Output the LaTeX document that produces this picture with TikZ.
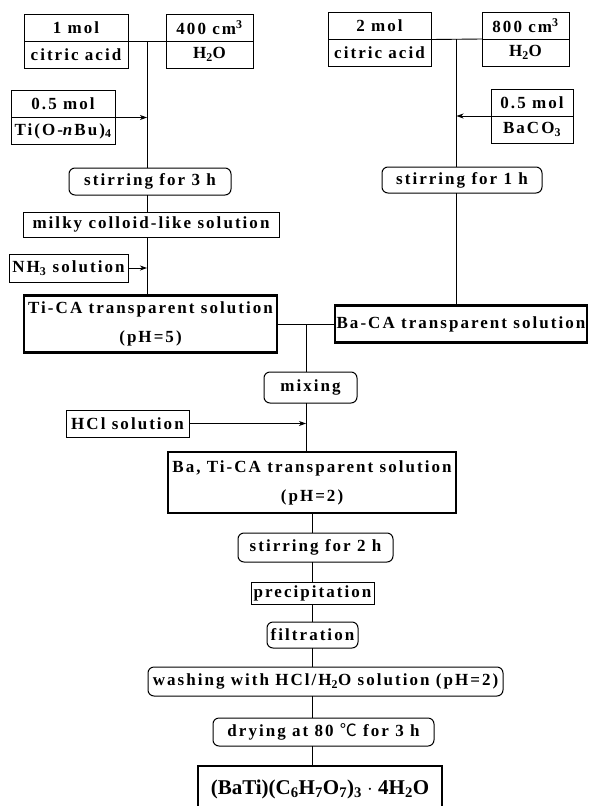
\documentclass[tikz,border=0pt]{standalone}
\usepackage{fontspec}
\setmainfont{Liberation Serif}[LetterSpace=12]
\newfontfamily\prodfont{Liberation Serif}
\newfontfamily\cjk{Noto Sans CJK SC}
\usetikzlibrary{positioning, arrows.meta}

\begin{document}
\begin{tikzpicture}[x=1pt,y=-1pt,
    every node/.style={font=\fontsize{17}{29}\selectfont\bfseries,inner sep=0pt,outer sep=0pt,align=center},
    cell/.style={draw,line width=1pt,minimum height=27pt},
    box/.style={draw,line width=1pt},
    proc/.style={draw,line width=1pt,rounded corners=6pt},
    sol/.style={draw,line width=2.2pt},
    link/.style={line width=0.9pt},
    feed/.style={line width=0.9pt,-{Stealth[length=7pt,width=5pt,inset=2pt]}}]
    \useasboundingbox (0,0) rectangle (590,806);

    \node[cell,minimum width=104pt] (ca1) at (76,27.5) {1 mol};
    \node[cell,minimum width=104pt,below=0pt of ca1] (ca1b) {citric acid};
    \node[cell,minimum width=87pt] (w1) at (209.5,27.5) {400 cm\textsuperscript{3}};
    \node[cell,minimum width=87pt,below=0pt of w1] (w1b) {H\textsubscript{2}O};
    \node[cell,minimum width=104pt] (ti) at (63,104) {0.5 mol};
    \node[cell,minimum width=104pt,below=0pt of ti] (tib) {Ti(O-\textit{n}Bu)\textsubscript{4}};

    \node[cell,minimum width=103pt] (ca2) at (379.5,26) {2 mol};
    \node[cell,minimum width=103pt,below=0pt of ca2] (ca2b) {citric acid};
    \node[cell,minimum width=87pt] (w2) at (525.5,25.5) {800 cm\textsuperscript{3}};
    \node[cell,minimum width=87pt,below=0pt of w2] (w2b) {H\textsubscript{2}O};
    \node[cell,minimum width=82pt] (ba) at (532,102.5) {0.5 mol};
    \node[cell,minimum width=82pt,below=0pt of ba] (bab) {BaCO\textsubscript{3}};

    \node[proc,minimum width=162pt,minimum height=27pt] (stir3) at (150,181.5) {stirring for 3 h};
    \node[box,minimum width=256pt,minimum height=25pt] (milky) at (151,224.5) {milky colloid-like solution};
    \node[box,minimum width=119pt,minimum height=28pt] (nh3) at (68.5,268) {NH\textsubscript{3} solution};
    \node[sol,minimum width=253pt,minimum height=57pt] (tica) at (150.5,324) {Ti-CA transparent solution\\(pH=5)};

    \node[proc,minimum width=160pt,minimum height=26pt] (stir1) at (462,180) {stirring for 1 h};
    \node[sol,minimum width=252pt,minimum height=37pt] (baca) at (461,324) {Ba-CA transparent solution};

    \node[proc,minimum width=93pt,minimum height=31pt] (mix) at (310.5,387.5) {mixing};
    \node[box,minimum width=123pt,minimum height=27pt] (hcl) at (127.5,423.5) {HCl solution};
    \node[sol,minimum width=288pt,minimum height=61pt] (batica) at (312,482.5) {Ba, Ti-CA transparent solution\\(pH=2)};

    \node[proc,minimum width=155pt,minimum height=29pt] (stir2) at (315.5,547.5) {stirring for 2 h};
    \node[box,minimum width=123pt,minimum height=22pt] (prec) at (312.5,593.5) {precipitation};
    \node[proc,minimum width=91pt,minimum height=26pt] (filt) at (312.5,635) {filtration};
    \node[proc,minimum width=355pt,minimum height=29pt] (wash) at (325.5,681.5) {washing with HCl/H\textsubscript{2}O solution (pH=2)};
    \node[proc,minimum width=221pt,minimum height=28pt] (dry) at (323.5,732) {drying at 80 {\cjk\mdseries ℃} for 3 h};
    \node[sol,minimum width=244pt,minimum height=46pt,font=\prodfont\fontsize{21}{24}\selectfont\bfseries] (prod) at (320,789) {(BaTi)(C\textsubscript{6}H\textsubscript{7}O\textsubscript{7})\textsubscript{3} $\cdot$ 4H\textsubscript{2}O};

    \draw[link] (ca1.south east) -- coordinate[midway] (j1) (w1.south west);
    \draw[link] (j1) -- (j1 |- stir3.north);
    \draw[link] (j1 |- stir3.south) -- (j1 |- milky.north);
    \draw[link] (j1 |- milky.south) -- (j1 |- tica.north);
    \draw[feed] (ti.south east) -- (ti.south east -| j1);
    \draw[feed] (nh3.east) -- (nh3.east -| j1);

    \draw[link] (ca2.south east) -- coordinate[midway] (j2) (w2.south west);
    \draw[link] (j2) -- (j2 |- stir1.north);
    \draw[link] (j2 |- stir1.south) -- (j2 |- baca.north);
    \draw[feed] (ba.south west) -- (ba.south west -| j2);

    \draw[link] (tica.east) -- coordinate[midway] (j3) (baca.west);
    \draw[link] (j3) -- (j3 |- mix.north);
    \draw[link] (j3 |- mix.south) -- (j3 |- batica.north);
    \draw[feed] (hcl.east) -- (hcl.east -| j3);

    \draw[link] (batica.south) -- (batica.south |- stir2.north);
    \draw[link] (batica.south |- stir2.south) -- (batica.south |- prec.north);
    \draw[link] (batica.south |- prec.south) -- (batica.south |- filt.north);
    \draw[link] (batica.south |- filt.south) -- (batica.south |- wash.north);
    \draw[link] (batica.south |- wash.south) -- (batica.south |- dry.north);
    \draw[link] (batica.south |- dry.south) -- (batica.south |- prod.north);
\end{tikzpicture}
\end{document}
